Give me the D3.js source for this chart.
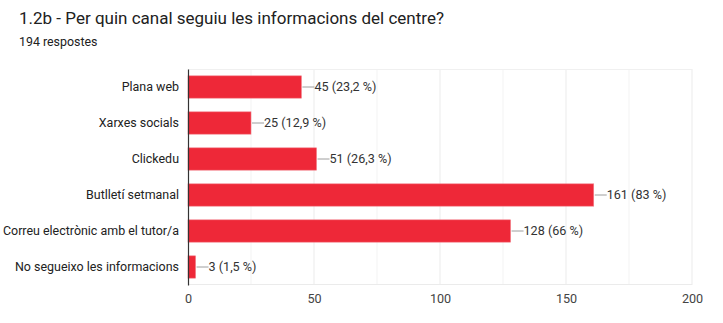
<!DOCTYPE html>
<html><head><meta charset="utf-8">
<script src="https://cdn.jsdelivr.net/npm/d3@7"></script>
<style>body{margin:0;background:#fff;font-family:Roboto,Arial,sans-serif;}</style>
</head><body>
<svg id="c" width="723" height="323"></svg>
<script>
const categories = ["Plana web","Xarxes socials","Clickedu","Butlletí setmanal","Correu electrònic amb el tutor/a","No segueixo les informacions"];
const values = [45,25,51,161,128,3];
const percents = ["23,2 %","12,9 %","26,3 %","83 %","66 %","1,5 %"];
const xTicks = [0,50,100,150,200];
const gridTicks = [25,50,75,100,125,150,175,200];
const chartFont = "Roboto,Arial,sans-serif";

const svg = d3.select("#c");
svg.append("text").attr("x",19).attr("y",24).attr("font-size",17).attr("fill","#212121").text("1.2b - Per quin canal seguiu les informacions del centre?");
svg.append("text").attr("x",19).attr("y",46).attr("font-size",12.4).attr("fill","#212121").text("194 respostes");

const x = d3.scaleLinear().domain([0,200]).range([188,692]);
const y = d3.scaleBand().domain(categories).range([69,285]).paddingInner(0.38).paddingOuter(0.19);

const g = svg.append("g");
g.selectAll("line.grid").data(gridTicks).join("line")
  .attr("x1",d=>x(d)).attr("x2",d=>x(d)).attr("y1",69).attr("y2",285)
  .attr("stroke",d=>d%50===0?"#ebebeb":"#f3f3f3").attr("stroke-width",1);
g.append("line").attr("x1",188).attr("x2",692).attr("y1",69.5).attr("y2",69.5).attr("stroke","#f0f0f0");
g.append("line").attr("x1",188).attr("x2",692).attr("y1",284.5).attr("y2",284.5).attr("stroke","#ebebeb");

g.selectAll("rect.bar").data(values).join("rect")
  .attr("x",x(0)).attr("y",(d,i)=>y(categories[i]))
  .attr("width",d=>x(d)-x(0)).attr("height",y.bandwidth())
  .attr("fill","#ee2838").attr("stroke","#f27c86").attr("stroke-width",0.6);

g.selectAll("line.conn").data(values).join("line")
  .attr("x1",d=>x(d)+1).attr("x2",d=>x(d)+13)
  .attr("y1",(d,i)=>y(categories[i])+y.bandwidth()/2).attr("y2",(d,i)=>y(categories[i])+y.bandwidth()/2)
  .attr("stroke","#9e9e9e").attr("stroke-width",1);

g.selectAll("text.val").data(values).join("text")
  .attr("x",d=>x(d)+13).attr("y",(d,i)=>y(categories[i])+y.bandwidth()/2)
  .attr("dy","0.35em").attr("font-size",12.6).attr("fill","#333").attr("font-family",chartFont)
  .text((d,i)=>d+" ("+percents[i]+")");

const ya = d3.axisLeft(y).tickSize(0).tickPadding(9);
const yg = svg.append("g").attr("transform","translate(188,0)").call(ya);
yg.select(".domain").attr("stroke","#333").attr("stroke-width",1.2);
yg.selectAll("text").attr("font-size",12.45).attr("fill","#222").attr("font-family",chartFont);

const xa = d3.axisBottom(x).tickValues(xTicks).tickSize(0).tickPadding(9);
const xg = svg.append("g").attr("transform","translate(0,285)").call(xa);
xg.select(".domain").remove();
xg.selectAll("text").attr("font-size",12.6).attr("fill","#444").attr("font-family",chartFont);
</script>
</body></html>
